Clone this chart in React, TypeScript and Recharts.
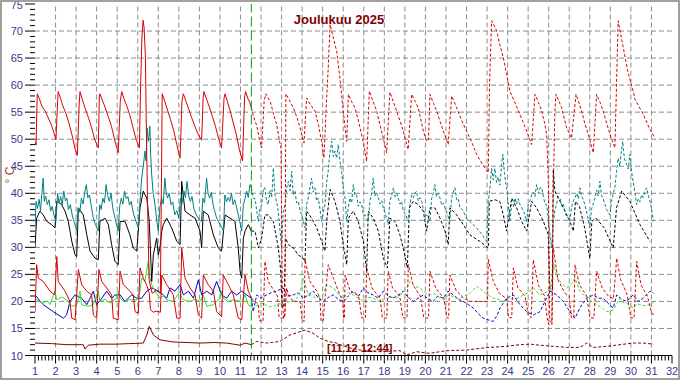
import React from "react";
import { LineChart, Line, XAxis, YAxis, ReferenceLine } from "recharts";

type Pt = [number, number];

const dayLabels = [1, 2, 3, 4, 5, 6, 7, 8, 9, 10, 11, 12, 13, 14, 15, 16, 17, 18, 19, 20, 21, 22, 23, 24, 25, 26, 27, 28, 29, 30, 31, 32];
const tempLabels = [10, 15, 20, 25, 30, 35, 40, 45, 50, 55, 60, 65, 70, 75];
const gridDays = [2, 3, 4, 5, 6, 7, 8, 9, 10, 11, 12, 13, 14, 15, 16, 17, 18, 19, 20, 21, 22, 23, 24, 25, 26, 27, 28, 29, 30, 31];
const gridTemps = [15, 20, 25, 30, 35, 40, 45, 50, 55, 60, 65, 70];

// time of the last measurement, 11.12 12:44
const NOW = 11.53;

// boiler flow (upper red)
const boiler: Pt[] = [
  [1.0, 49.6], [1.05, 48.9], [1.11, 58.4], [1.2, 57.6], [1.35, 56.0], [1.5, 55.2], [1.65, 53.9], [1.8, 52.6], [1.92, 51.2], [2.02, 49.9],
  [2.1, 57.0], [2.13, 58.8], [2.22, 57.8], [2.35, 56.2], [2.5, 54.8], [2.65, 53.0], [2.8, 50.8], [2.95, 48.2], [3.06, 47.0],
  [3.15, 56.5], [3.19, 58.8], [3.3, 57.4], [3.45, 55.6], [3.6, 54.0], [3.75, 52.2], [3.9, 50.0], [4.08, 48.4],
  [4.13, 57.8], [4.16, 58.4], [4.28, 57.2], [4.42, 55.8], [4.58, 54.0], [4.72, 52.4], [4.88, 49.8], [5.05, 47.5],
  [5.15, 57.0], [5.22, 58.8], [5.32, 57.6], [5.48, 56.0], [5.62, 54.4], [5.78, 52.0], [5.92, 50.0], [6.08, 48.4],
  [6.14, 60.0], [6.2, 68.5], [6.26, 72.0], [6.31, 70.6], [6.37, 65.5], [6.42, 52.0], [6.47, 40.0], [6.55, 24.0], [6.7, 21.5], [6.9, 22.0], [7.1, 21.5],
  [7.15, 40.0], [7.19, 58.4], [7.3, 57.2], [7.45, 55.4], [7.6, 53.6], [7.75, 51.6], [7.9, 49.0], [8.06, 46.5],
  [8.15, 57.0], [8.22, 58.4], [8.33, 57.2], [8.48, 55.6], [8.62, 54.0], [8.78, 52.4], [8.95, 50.8], [9.11, 49.8],
  [9.18, 57.5], [9.22, 58.8], [9.33, 57.6], [9.48, 56.0], [9.63, 54.2], [9.78, 52.4], [9.93, 50.2], [10.08, 48.4],
  [10.2, 57.6], [10.25, 58.4], [10.36, 57.0], [10.5, 55.2], [10.65, 53.0], [10.8, 50.8], [10.95, 48.0], [11.1, 46.0],
  [11.2, 57.8], [11.25, 58.8], [11.35, 57.6], [11.45, 56.8], [11.53, 55.8],
  [11.65, 54.0], [11.79, 52.5], [11.92, 50.0], [12.03, 48.4], [12.15, 57.0], [12.23, 58.4], [12.35, 57.6], [12.47, 56.7], [12.62, 54.5], [12.76, 52.7], [12.88, 50.0], [12.97, 48.4],
  [13.04, 20.0], [13.1, 16.8], [13.16, 17.5], [13.21, 58.4], [13.35, 57.4], [13.57, 55.8], [13.75, 54.0], [13.9, 52.1], [14.0, 50.5], [14.09, 49.3],
  [14.22, 57.6], [14.4, 56.4], [14.63, 55.2], [14.8, 52.5], [14.95, 49.6], [15.06, 46.5],
  [15.2, 58.0], [15.27, 63.2], [15.36, 71.2], [15.5, 69.0], [15.68, 66.3], [15.84, 61.3], [16.0, 55.2], [16.17, 49.6],
  [16.25, 58.3], [16.4, 57.0], [16.57, 55.8], [16.7, 54.0], [16.82, 52.1], [17.0, 49.0], [17.14, 45.9],
  [17.27, 58.9], [17.45, 57.0], [17.63, 55.2], [17.8, 52.5], [17.95, 50.2], [18.11, 47.5],
  [18.27, 58.7], [18.45, 56.8], [18.6, 55.2], [18.78, 53.2], [18.92, 51.5], [19.16, 48.1],
  [19.33, 58.3], [19.5, 57.0], [19.65, 55.8], [19.9, 51.5], [20.06, 49.6], [20.15, 50.0],
  [20.22, 58.3], [20.4, 56.6], [20.55, 55.2], [20.7, 53.4], [20.87, 51.5], [21.11, 49.0],
  [21.28, 58.0], [21.52, 55.8], [21.75, 53.6], [22.0, 51.5], [22.25, 49.5], [22.49, 47.2], [22.75, 45.5], [23.06, 43.8],
  [23.12, 60.0], [23.22, 71.9], [23.35, 71.0], [23.47, 70.0], [23.62, 67.5], [23.79, 65.1], [23.95, 62.0], [24.11, 58.9], [24.35, 56.8], [24.6, 54.6], [24.75, 53.2], [24.93, 51.5], [25.17, 49.0],
  [25.33, 58.3], [25.5, 56.8], [25.66, 55.2], [25.8, 53.0], [25.9, 50.9], [25.98, 42.2], [26.05, 16.5], [26.15, 16.0], [26.22, 40.0], [26.3, 55.0],
  [26.35, 58.3], [26.5, 57.0], [26.63, 55.8], [26.87, 52.1], [27.11, 50.2],
  [27.33, 58.3], [27.45, 57.0], [27.6, 55.2], [27.75, 53.0], [27.93, 50.9], [28.1, 48.5], [28.17, 47.5],
  [28.33, 58.3], [28.5, 56.8], [28.65, 55.2], [28.8, 53.2], [28.98, 50.9], [29.22, 48.4],
  [29.3, 60.0], [29.38, 71.9], [29.5, 69.5], [29.63, 66.9], [29.85, 62.5], [30.11, 58.9], [30.2, 57.4], [30.4, 56.0], [30.6, 54.6], [30.9, 52.0], [31.17, 50.2],
];

// teal
const upperTank: Pt[] = [
  [1.0, 33.6], [1.05, 38.5], [1.12, 37.2], [1.2, 38.9], [1.27, 36.8], [1.33, 39.8], [1.4, 42.8], [1.45, 38.5], [1.52, 39.5], [1.6, 37.9], [1.68, 38.8], [1.76, 36.7], [1.84, 37.6], [1.92, 36.0], [2.02, 34.8],
  [2.1, 40.0], [2.17, 38.2], [2.25, 39.4], [2.32, 37.8], [2.4, 40.4], [2.48, 38.6], [2.55, 39.1], [2.63, 37.0], [2.72, 37.9], [2.82, 35.8], [2.92, 34.6], [3.03, 33.0],
  [3.1, 37.3], [3.18, 36.5], [3.26, 39.1], [3.34, 38.0], [3.42, 40.2], [3.5, 41.6], [3.57, 39.2], [3.65, 39.7], [3.74, 37.6], [3.84, 35.4], [3.94, 34.2], [4.08, 33.0],
  [4.15, 37.9], [4.22, 37.0], [4.3, 39.1], [4.38, 38.2], [4.46, 41.6], [4.53, 39.6], [4.62, 38.5], [4.7, 40.0], [4.78, 37.4], [4.88, 35.6], [5.05, 33.0],
  [5.12, 37.6], [5.2, 39.1], [5.28, 38.0], [5.36, 40.4], [5.44, 39.0], [5.52, 39.4], [5.6, 37.8], [5.68, 38.5], [5.78, 36.4], [5.9, 35.0], [6.03, 33.6],
  [6.1, 38.0], [6.19, 42.8], [6.27, 45.0], [6.35, 47.8], [6.4, 46.0], [6.46, 52.1], [6.52, 49.6], [6.55, 50.5], [6.59, 52.4], [6.63, 47.0], [6.68, 43.4], [6.75, 40.0], [6.84, 37.9], [6.92, 35.0], [7.0, 33.0],
  [7.08, 37.5], [7.16, 39.1], [7.24, 38.0], [7.32, 42.8], [7.38, 40.2], [7.45, 39.1], [7.53, 40.0], [7.62, 37.9], [7.7, 38.4], [7.8, 36.0], [7.9, 36.8], [8.0, 35.4],
  [8.08, 39.1], [8.15, 38.0], [8.25, 40.4], [8.32, 39.2], [8.4, 42.2], [8.48, 39.5], [8.56, 38.5], [8.64, 39.4], [8.74, 37.0], [8.85, 36.0], [8.98, 35.2], [9.1, 34.8],
  [9.17, 39.1], [9.25, 38.2], [9.35, 42.8], [9.42, 40.0], [9.5, 39.1], [9.58, 40.2], [9.66, 38.0], [9.74, 36.8], [9.84, 35.4], [9.95, 34.6], [10.1, 33.6], [10.17, 33.0],
  [10.24, 39.7], [10.32, 38.4], [10.4, 39.2], [10.48, 38.5], [10.56, 40.0], [10.64, 37.9], [10.72, 38.8], [10.82, 37.2], [10.92, 35.6], [11.06, 33.0],
  [11.14, 37.9], [11.22, 39.0], [11.3, 40.4], [11.38, 39.2], [11.46, 41.6], [11.53, 41.0],
  [11.62, 39.1], [11.71, 39.0], [11.8, 36.5], [11.87, 34.8], [11.95, 37.3], [12.03, 37.8], [12.12, 41.0], [12.19, 41.0], [12.27, 38.5], [12.35, 37.9], [12.44, 40.5], [12.52, 39.2], [12.6, 44.7], [12.68, 39.7], [12.76, 38.4], [12.84, 36.7], [13.0, 29.9],
  [13.08, 36.5], [13.17, 37.9], [13.25, 41.0], [13.33, 42.2], [13.41, 40.5], [13.49, 44.1], [13.57, 39.7], [13.65, 40.5], [13.73, 38.2], [13.81, 38.5], [13.9, 36.8], [13.98, 36.0], [14.14, 33.6],
  [14.22, 38.0], [14.3, 39.1], [14.38, 41.0], [14.46, 42.8], [14.54, 40.2], [14.63, 41.0], [14.7, 38.6], [14.79, 39.1], [14.87, 37.0], [14.95, 34.8],
  [15.03, 36.5], [15.11, 37.9], [15.19, 42.0], [15.27, 44.1], [15.35, 47.5], [15.44, 49.6], [15.52, 46.8], [15.6, 47.8], [15.68, 46.5], [15.76, 49.0], [15.84, 46.0], [15.92, 44.1], [16.0, 41.0], [16.09, 39.1], [16.17, 34.8],
  [16.25, 37.5], [16.33, 39.1], [16.41, 38.2], [16.49, 41.6], [16.57, 39.6], [16.65, 39.7], [16.73, 37.6], [16.82, 38.4], [16.9, 37.9], [16.98, 36.0], [17.06, 36.0], [17.14, 35.5], [17.22, 34.8],
  [17.3, 38.6], [17.38, 40.0], [17.46, 42.8], [17.54, 39.5], [17.62, 40.2], [17.71, 39.1], [17.8, 38.0], [17.88, 38.6], [17.95, 37.3], [18.05, 36.2], [18.19, 34.2],
  [18.27, 38.5], [18.36, 39.6], [18.44, 41.0], [18.52, 39.4], [18.6, 40.0], [18.68, 39.1], [18.76, 38.0], [18.84, 38.5], [18.92, 36.7], [19.05, 36.0], [19.17, 34.8],
  [19.25, 38.0], [19.33, 39.7], [19.41, 39.2], [19.49, 40.0], [19.57, 40.4], [19.65, 38.6], [19.73, 39.2], [19.82, 38.5], [19.9, 37.0], [19.98, 36.0], [20.06, 36.0], [20.14, 35.4], [20.22, 34.8],
  [20.3, 39.0], [20.38, 40.0], [20.46, 41.6], [20.54, 39.4], [20.62, 40.0], [20.71, 39.1], [20.8, 37.8], [20.88, 38.2], [20.95, 37.3], [21.1, 35.8], [21.19, 34.8],
  [21.27, 39.0], [21.35, 40.2], [21.44, 41.0], [21.52, 38.8], [21.6, 39.0], [21.68, 37.3], [21.8, 37.0], [22.0, 35.4], [22.25, 34.5], [22.49, 33.6], [22.75, 32.4], [22.98, 31.1],
  [23.06, 38.5], [23.14, 41.0], [23.22, 44.6], [23.3, 42.5], [23.38, 44.6], [23.46, 42.0], [23.54, 43.0], [23.62, 41.5], [23.7, 45.0], [23.77, 47.2], [23.85, 43.5], [23.95, 41.0], [24.03, 38.0], [24.11, 34.8],
  [24.2, 38.0], [24.28, 37.5], [24.36, 39.1], [24.44, 38.0], [24.52, 39.0], [24.6, 37.9], [24.7, 37.2], [24.8, 36.5], [24.93, 34.8],
  [25.0, 38.0], [25.09, 38.6], [25.17, 39.7], [25.25, 40.2], [25.33, 39.4], [25.41, 41.6], [25.5, 40.0], [25.58, 41.0], [25.66, 41.0], [25.74, 39.4], [25.82, 38.0], [25.9, 37.9], [26.14, 29.9],
  [26.22, 34.5], [26.3, 36.7], [26.38, 38.0], [26.47, 39.4], [26.55, 39.1], [26.63, 37.6], [26.71, 38.0], [26.79, 36.7], [26.88, 35.5], [26.95, 35.5], [27.03, 34.8],
  [27.11, 37.5], [27.2, 38.6], [27.28, 39.1], [27.36, 40.0], [27.44, 39.0], [27.52, 41.0], [27.6, 39.5], [27.68, 38.8], [27.76, 37.9], [27.88, 36.0], [28.0, 33.6],
  [28.08, 37.0], [28.16, 38.0], [28.25, 39.1], [28.33, 40.6], [28.41, 39.5], [28.49, 42.2], [28.57, 39.6], [28.65, 39.0], [28.74, 37.9], [28.82, 37.0], [28.9, 36.4], [28.98, 36.0],
  [29.06, 38.5], [29.14, 40.0], [29.22, 41.0], [29.3, 44.0], [29.38, 46.5], [29.46, 45.0], [29.53, 47.6], [29.6, 49.6], [29.68, 46.5], [29.79, 45.3], [29.87, 44.5], [29.95, 47.2], [30.03, 44.0], [30.11, 42.2], [30.2, 40.0], [30.28, 37.9],
  [30.36, 39.0], [30.44, 38.4], [30.52, 39.7], [30.6, 39.2], [30.68, 40.5], [30.77, 41.0], [30.85, 39.6], [30.93, 38.5], [31.01, 37.0], [31.09, 34.8],
];

// black
const lowerTank: Pt[] = [
  [1.0, 29.9], [1.08, 35.4], [1.24, 36.7], [1.4, 36.0], [1.57, 34.8], [1.81, 34.2], [1.97, 33.6], [2.06, 38.5], [2.3, 37.9], [2.46, 36.7], [2.62, 34.8], [2.79, 31.1], [2.95, 28.6], [3.03, 28.3],
  [3.11, 37.3], [3.35, 36.0], [3.52, 32.3], [3.68, 29.3], [3.92, 28.0], [4.08, 27.7], [4.16, 34.8], [4.41, 35.4], [4.57, 34.2], [4.73, 30.5], [4.89, 27.4], [5.05, 26.8],
  [5.14, 34.8], [5.38, 34.8], [5.62, 32.3], [5.78, 29.9], [5.95, 29.3], [6.11, 37.3], [6.27, 40.4], [6.44, 39.1], [6.56, 34.8], [6.68, 23.7], [6.76, 28.6], [6.92, 31.7], [7.0, 28.6], [7.08, 29.9],
  [7.17, 33.0], [7.24, 34.2], [7.41, 35.4], [7.65, 33.6], [7.9, 31.1], [8.06, 30.5], [8.14, 42.2], [8.3, 36.7], [8.54, 36.0], [8.79, 35.4], [9.03, 33.0], [9.11, 29.9],
  [9.19, 36.7], [9.43, 36.0], [9.68, 32.3], [9.92, 29.9], [10.08, 29.3], [10.25, 36.0], [10.49, 35.4], [10.73, 34.8], [10.89, 29.9], [10.98, 25.6], [11.06, 24.3],
  [11.14, 31.7], [11.22, 33.0], [11.38, 34.2], [11.53, 33.0],
  [11.62, 33.0], [11.71, 33.0], [11.87, 29.9], [12.03, 31.7], [12.19, 36.0], [12.35, 36.0], [12.6, 34.8], [12.76, 31.5], [12.84, 29.9], [12.95, 26.0], [13.03, 18.8], [13.12, 19.5],
  [13.2, 31.7], [13.33, 30.5], [13.57, 29.9], [13.81, 28.6], [14.05, 28.0], [14.14, 27.4], [14.22, 36.7], [14.46, 35.4], [14.71, 33.6], [14.95, 31.1], [15.11, 29.3],
  [15.2, 35.0], [15.36, 40.7], [15.6, 38.5], [15.84, 34.8], [16.0, 30.5], [16.17, 26.8], [16.25, 35.4], [16.49, 36.7], [16.73, 34.8], [16.98, 31.1], [17.14, 25.6],
  [17.22, 36.7], [17.46, 35.4], [17.71, 33.0], [17.95, 28.0], [18.15, 26.2], [18.27, 35.4], [18.52, 34.8], [18.76, 32.3], [19.0, 28.6], [19.12, 26.2],
  [19.22, 37.3], [19.41, 38.5], [19.65, 37.9], [19.9, 36.7], [20.06, 33.0], [20.22, 37.3], [20.46, 37.3], [20.71, 35.4], [20.95, 33.0], [21.11, 30.5],
  [21.19, 37.3], [21.52, 36.0], [21.84, 34.2], [22.17, 32.3], [22.65, 31.1], [23.06, 29.9], [23.11, 38.5], [23.38, 38.8], [23.62, 38.5], [23.79, 36.0], [23.95, 33.0],
  [24.2, 39.1], [24.44, 37.3], [24.68, 34.8], [24.93, 33.0], [25.17, 38.5], [25.41, 37.3], [25.74, 34.8], [25.98, 32.3], [26.05, 22.4], [26.18, 22.5],
  [26.22, 44.4], [26.3, 40.4], [26.55, 38.5], [26.79, 36.7], [27.03, 34.8], [27.2, 33.0], [27.3, 38.5], [27.5, 37.5], [27.75, 33.6], [28.0, 28.0],
  [28.1, 34.8], [28.3, 35.4], [28.7, 33.6], [29.14, 29.9], [29.3, 37.3], [29.55, 40.4], [29.95, 38.5], [30.44, 34.2], [30.93, 31.1],
];

// lower red
const returnLine: Pt[] = [
  [1.0, 18.1], [1.08, 26.8], [1.16, 24.3], [1.4, 23.7], [1.73, 21.9], [1.97, 21.2], [2.06, 28.3], [2.13, 23.7], [2.46, 21.9], [2.7, 20.0], [2.79, 16.9], [2.95, 16.6],
  [3.11, 25.9], [3.27, 23.1], [3.52, 21.9], [3.76, 21.2], [3.84, 17.5], [4.0, 16.9], [4.11, 25.9], [4.25, 23.7], [4.49, 22.5], [4.73, 21.2], [4.81, 16.9], [5.05, 16.6],
  [5.14, 25.6], [5.3, 23.1], [5.62, 21.9], [5.78, 21.2], [5.87, 18.1], [6.03, 17.8], [6.11, 26.2], [6.27, 24.3], [6.44, 23.0], [6.56, 21.5], [6.62, 18.5], [6.75, 18.0], [6.9, 18.2], [7.1, 18.0],
  [7.17, 24.9], [7.41, 23.1], [7.73, 21.2], [7.9, 16.9], [8.06, 16.9], [8.14, 29.9], [8.3, 24.3], [8.54, 22.5], [8.79, 21.2], [8.95, 17.5], [9.11, 16.9],
  [9.19, 24.9], [9.43, 23.1], [9.68, 21.9], [9.84, 18.1], [10.08, 17.2], [10.16, 24.9], [10.41, 23.1], [10.65, 21.2], [10.89, 16.9], [11.06, 16.6],
  [11.22, 24.9], [11.38, 21.9], [11.53, 20.6],
  [11.7, 20.0], [11.87, 19.5], [11.92, 16.5], [12.1, 16.3], [12.19, 27.4], [12.35, 23.7], [12.55, 22.5], [12.8, 21.0], [12.88, 17.0], [13.0, 16.9], [13.15, 17.2],
  [13.25, 22.5], [13.33, 21.2], [13.57, 20.0], [13.9, 20.0], [14.0, 16.5], [14.1, 16.3], [14.14, 27.7], [14.38, 23.7], [14.71, 21.9], [14.87, 20.6], [14.92, 16.3], [15.03, 16.5],
  [15.1, 20.0], [15.27, 26.8], [15.52, 24.3], [15.84, 21.2], [15.98, 20.0], [16.02, 16.9], [16.06, 16.9], [16.09, 24.9], [16.33, 22.0], [16.75, 21.0], [16.9, 17.0], [17.08, 16.9],
  [17.14, 26.2], [17.4, 22.5], [17.8, 20.5], [17.9, 17.0], [18.12, 16.9], [18.19, 25.6], [18.4, 22.5], [18.75, 21.0], [18.9, 17.0], [19.1, 16.9],
  [19.17, 26.8], [19.4, 23.0], [19.75, 21.0], [19.92, 17.0], [20.15, 16.9], [20.22, 25.6], [20.5, 22.5], [20.9, 20.5], [21.05, 17.0], [21.13, 16.9],
  [21.19, 24.9], [21.5, 22.0], [21.9, 20.5], [22.2, 20.0], [23.02, 20.0], [23.06, 27.8], [23.3, 23.7], [23.6, 21.5], [23.95, 20.5], [24.05, 17.0], [24.2, 17.0],
  [24.28, 26.2], [24.5, 22.5], [24.85, 21.0], [25.0, 17.5], [25.15, 17.0], [25.25, 27.7], [25.5, 23.0], [25.8, 21.0], [25.92, 17.0], [26.0, 15.7], [26.16, 15.7],
  [26.22, 30.0], [26.45, 24.0], [26.8, 21.5], [27.0, 21.0], [27.1, 17.0], [27.22, 17.0], [27.28, 26.8], [27.5, 23.0], [27.85, 21.0], [28.0, 17.0], [28.2, 16.9],
  [28.33, 25.6], [28.6, 22.5], [28.9, 21.0], [29.15, 20.5], [29.31, 28.0], [29.5, 24.0], [29.8, 21.5], [30.0, 17.0], [30.15, 16.9],
  [30.28, 27.4], [30.5, 23.0], [30.8, 21.0], [31.0, 18.0], [31.1, 17.5],
];

// green
const indoor: Pt[] = [
  [1.0, 20.6], [1.2, 20.0], [1.4, 19.7], [1.6, 20.1], [1.73, 19.4], [1.97, 21.9], [2.06, 20.3], [2.3, 20.8], [2.54, 20.3], [2.79, 19.1], [3.03, 19.4], [3.19, 21.9], [3.27, 19.4],
  [3.59, 19.1], [3.84, 19.4], [4.08, 21.9], [4.16, 20.0], [4.4, 20.4], [4.65, 19.7], [4.98, 20.6], [5.05, 21.9], [5.14, 20.6], [5.35, 19.9], [5.54, 20.3], [5.95, 20.3],
  [6.11, 21.9], [6.19, 24.3], [6.35, 23.7], [6.51, 27.4], [6.6, 24.3], [6.68, 23.1], [6.84, 21.9], [7.08, 20.6], [7.25, 21.0], [7.41, 20.3], [7.73, 20.0], [8.06, 21.9], [8.14, 20.6],
  [8.3, 20.2], [8.54, 20.0], [8.8, 20.4], [9.03, 20.0], [9.19, 21.2], [9.36, 19.1], [9.68, 19.4], [10.0, 20.6], [10.08, 21.9], [10.16, 20.6], [10.4, 20.0], [10.65, 20.3],
  [11.06, 20.0], [11.22, 21.2], [11.38, 19.4], [11.53, 19.0],
  [11.62, 18.8], [11.85, 19.4], [12.11, 19.7], [12.35, 19.0], [12.6, 19.1], [12.85, 19.6], [13.08, 19.4], [13.3, 19.9], [13.57, 20.0], [13.85, 21.0], [14.06, 24.3], [14.3, 21.2],
  [14.71, 20.6], [15.0, 21.2], [15.2, 23.1], [15.52, 22.5], [15.75, 21.4], [16.0, 20.6], [16.25, 21.6], [16.49, 21.2], [16.75, 20.6], [16.98, 20.0], [17.2, 20.8], [17.46, 20.6],
  [17.7, 20.0], [17.95, 20.3], [18.3, 20.8], [18.6, 20.6], [18.85, 21.4], [19.09, 22.5], [19.25, 23.7], [19.5, 22.8], [19.73, 22.5], [20.0, 21.6], [20.22, 21.2], [20.45, 21.4],
  [20.71, 20.6], [20.95, 20.8], [21.19, 21.2], [21.45, 20.6], [21.68, 20.6], [21.9, 21.0], [22.17, 21.5], [22.49, 22.8], [22.81, 21.9], [23.05, 21.2], [23.3, 20.6], [23.55, 20.4],
  [23.79, 20.0], [24.05, 20.4], [24.28, 20.6], [24.5, 20.6], [24.76, 21.2], [25.0, 21.6], [25.25, 22.5], [25.57, 21.2], [25.8, 21.6], [26.06, 21.9], [26.26, 26.8], [26.4, 24.5],
  [26.55, 23.7], [26.87, 22.5], [27.1, 23.2], [27.28, 24.3], [27.52, 21.9], [27.85, 20.6], [28.1, 20.0], [28.33, 19.4], [28.6, 18.8], [28.82, 18.1], [29.14, 18.4], [29.3, 19.5],
  [29.47, 20.6], [29.62, 19.8], [29.79, 19.7], [29.95, 19.2], [30.11, 18.8], [30.3, 19.6], [30.44, 19.4], [30.7, 19.2], [30.93, 19.4], [31.1, 19.8],
];

// blue
const outdoorSide: Pt[] = [
  [1.0, 21.2], [1.4, 19.4], [1.89, 18.1], [2.38, 16.9], [2.54, 17.5], [2.7, 20.0], [2.95, 21.2], [3.27, 20.6], [3.52, 19.4], [3.68, 20.6], [3.84, 21.9], [4.0, 19.4],
  [4.25, 20.6], [4.49, 21.9], [4.73, 20.6], [4.89, 21.2], [5.14, 21.2], [5.38, 20.0], [5.7, 21.2], [5.95, 20.6], [6.19, 20.6], [6.44, 21.9], [6.68, 22.5], [7.0, 21.9],
  [7.24, 21.2], [7.41, 20.6], [7.57, 22.5], [7.81, 21.9], [8.06, 23.1], [8.22, 21.2], [8.47, 21.9], [8.71, 20.6], [8.95, 24.0], [9.11, 21.2], [9.36, 21.9], [9.6, 21.2],
  [9.84, 23.7], [10.08, 21.2], [10.33, 20.6], [10.57, 21.9], [10.81, 21.2], [11.06, 21.9], [11.3, 21.2], [11.53, 20.6],
  [11.62, 18.1], [11.79, 21.2], [12.0, 20.6], [12.27, 21.2], [12.5, 21.6], [12.76, 21.9], [13.08, 22.5], [13.3, 21.0], [13.57, 21.2], [13.8, 21.6], [14.06, 20.6], [14.3, 21.2],
  [14.54, 21.9], [14.8, 20.6], [15.03, 20.0], [15.3, 20.8], [15.52, 21.2], [15.75, 20.4], [16.0, 20.0], [16.25, 21.0], [16.49, 21.9], [16.75, 21.0], [16.98, 22.5], [17.2, 21.6],
  [17.46, 21.2], [17.7, 20.6], [17.95, 21.9], [18.2, 21.0], [18.44, 20.6], [18.7, 21.2], [18.92, 21.9], [19.15, 20.8], [19.41, 20.0], [19.65, 20.6], [19.9, 21.2], [20.15, 20.4],
  [20.38, 20.0], [20.6, 21.0], [20.87, 20.6], [21.1, 21.9], [21.36, 21.2], [21.6, 20.4], [21.84, 20.0], [22.1, 19.4], [22.33, 18.8], [22.55, 17.8], [22.81, 16.9], [23.05, 16.6],
  [23.3, 16.3], [23.5, 17.5], [23.63, 18.8], [23.95, 20.6], [24.28, 21.2], [24.45, 20.2], [24.6, 19.4], [24.93, 18.1], [25.25, 17.5], [25.57, 18.1], [25.82, 20.0], [26.06, 21.9],
  [26.39, 21.2], [26.71, 20.0], [27.03, 18.1], [27.28, 16.9], [27.52, 18.8], [27.85, 20.6], [28.17, 21.2], [28.4, 20.6], [28.65, 20.6], [28.9, 19.6], [29.14, 18.8], [29.31, 21.2],
  [29.55, 20.4], [29.79, 20.0], [30.11, 21.2], [30.35, 20.0], [30.6, 20.6], [30.93, 21.9], [31.1, 21.5],
];

// dark red, bottom
const outdoor: Pt[] = [
  [1.0, 12.3], [1.8, 12.2], [2.54, 12.0], [3.35, 12.0], [3.43, 11.2], [3.59, 11.9], [4.16, 12.1], [4.98, 12.1], [5.6, 12.2], [6.27, 12.3], [6.44, 13.8], [6.56, 15.4],
  [6.76, 13.8], [7.08, 12.9], [7.73, 12.5], [8.4, 12.4], [9.03, 12.3], [9.7, 12.4], [10.33, 12.3], [10.98, 11.9], [11.22, 12.3], [11.53, 12.0],
  [11.79, 12.6], [12.27, 12.3], [12.92, 12.6], [13.41, 13.8], [13.9, 14.4], [14.14, 14.7], [14.54, 14.1], [14.87, 13.2], [15.27, 12.6], [15.68, 12.3], [15.84, 12.0],
  [16.33, 11.4], [16.82, 11.0], [17.3, 10.9], [17.79, 10.7], [18.3, 10.8], [18.76, 10.9], [19.09, 10.1], [19.57, 10.7], [20.22, 10.4], [21.03, 10.9], [22.0, 11.0],
  [22.6, 11.3], [23.14, 11.5], [23.95, 11.7], [24.6, 12.0], [25.09, 12.1], [25.57, 11.9], [26.22, 11.7], [26.87, 11.5], [27.52, 11.5], [27.85, 12.3], [28.17, 11.5],
  [28.82, 11.7], [29.47, 12.0], [30.11, 12.3], [30.6, 12.3], [31.09, 12.1],
];

const FONT = "'Liberation Sans', Arial, sans-serif";
const LABEL = "#3a3a8a";

const toRows = (pts: Pt[]) => pts.map(([x, y]) => ({ x, y }));
const past = (pts: Pt[]) => toRows(pts.filter((p) => p[0] <= NOW));
const later = (pts: Pt[]) => toRows(pts.filter((p) => p[0] >= NOW));

const series = [
  { name: "outdoor", pts: outdoor, color: "#800000" },
  { name: "outdoorSide", pts: outdoorSide, color: "#0000c8" },
  { name: "indoor", pts: indoor, color: "#33dd33" },
  { name: "returnLine", pts: returnLine, color: "#d80000" },
  { name: "lowerTank", pts: lowerTank, color: "#000000" },
  { name: "upperTank", pts: upperTank, color: "#008080" },
  { name: "boiler", pts: boiler, color: "#d80000" },
];

const xTicks = dayLabels.flatMap((d) => (d < 32 ? [0, 1, 2, 3, 4, 5].map((k) => d + k / 6) : [d]));
const yTicks = Array.from({ length: 66 }, (_, i) => 10 + i);

const YTick = (props: any) => {
  const { x, y, payload } = props;
  const v = Math.round(payload.value);
  const major = tempLabels.includes(v);
  return (
    <g>
      <line x1={major ? x - 10 : x - 5} x2={x} y1={y} y2={y} stroke="#000" />
      {major && (
        <text x={x - 12} y={v === 75 ? y + 5 : y + 4} textAnchor="end" fontSize={11} fontFamily={FONT} fill={LABEL}>
          {v}
        </text>
      )}
    </g>
  );
};

const XTick = (props: any) => {
  const { x, y, payload } = props;
  const v = payload.value;
  const major = Math.abs(v - Math.round(v)) < 0.001;
  return (
    <g>
      <line x1={x} x2={x} y1={y} y2={major ? y + 8 : y + 5} stroke="#000" />
      {major && (
        <text x={x} y={y + 19} textAnchor="middle" fontSize={11} fontFamily={FONT} fill={LABEL}>
          {Math.round(v)}
        </text>
      )}
    </g>
  );
};

export default function App() {
  return (
    <div style={{ position: "absolute", left: 0, top: 0, width: 680, height: 380, background: "#fff" }}>
      <LineChart width={680} height={380} margin={{ top: 4, right: 8, bottom: 0, left: 0 }}>
        <XAxis
          type="number"
          dataKey="x"
          domain={[1, 32]}
          ticks={xTicks}
          interval={0}
          tick={<XTick />}
          tickLine={false}
          tickSize={0}
          tickMargin={0}
          axisLine={{ stroke: "#000" }}
          height={24.5}
          allowDataOverflow
        />
        <YAxis
          type="number"
          domain={[10, 75]}
          ticks={yTicks}
          interval={0}
          tick={<YTick />}
          tickLine={false}
          tickSize={0}
          tickMargin={0}
          axisLine={false}
          width={35}
          allowDataOverflow
        />
        {gridTemps.map((v) => (
          <ReferenceLine key={"h" + v} y={v} stroke="#8c8c8c" strokeDasharray="5 3" />
        ))}
        {gridDays.map((d) => (
          <ReferenceLine key={"v" + d} x={d} stroke="#8c8c8c" strokeDasharray="5 3" />
        ))}
        {series.map((s) => (
          <Line
            key={s.name + "-solid"}
            data={past(s.pts)}
            dataKey="y"
            type="linear"
            stroke={s.color}
            strokeWidth={1}
            dot={false}
            activeDot={false}
            isAnimationActive={false}
          />
        ))}
        {series.map((s) => (
          <Line
            key={s.name + "-dotted"}
            data={later(s.pts)}
            dataKey="y"
            type="linear"
            stroke={s.color}
            strokeWidth={1}
            strokeDasharray="3 2"
            dot={false}
            activeDot={false}
            isAnimationActive={false}
          />
        ))}
        <ReferenceLine x={NOW} stroke="#00a000" strokeDasharray="10 4" strokeDashoffset={-7} />
      </LineChart>
      <svg width={680} height={380} style={{ position: "absolute", left: 0, top: 0, pointerEvents: "none" }}>
        <rect x={1} y={1} width={678} height={378} fill="none" stroke="#a0a0a0" strokeWidth={2} />
        <text x={339} y={24} textAnchor="middle" fontSize={13} fontWeight="bold" fontFamily={FONT} fill="#800000">
          Joulukuu 2025
        </text>
        <text x={327} y={352} fontSize={11} fontWeight="bold" fontFamily={FONT} fill="#800000">
          [11.12 12:44]
        </text>
        <text
          x={14}
          y={175}
          textAnchor="middle"
          fontSize={12}
          fontFamily={FONT}
          fill="#a0402a"
          transform="rotate(-90 14 175)"
        >
          ° C
        </text>
      </svg>
    </div>
  );
}
